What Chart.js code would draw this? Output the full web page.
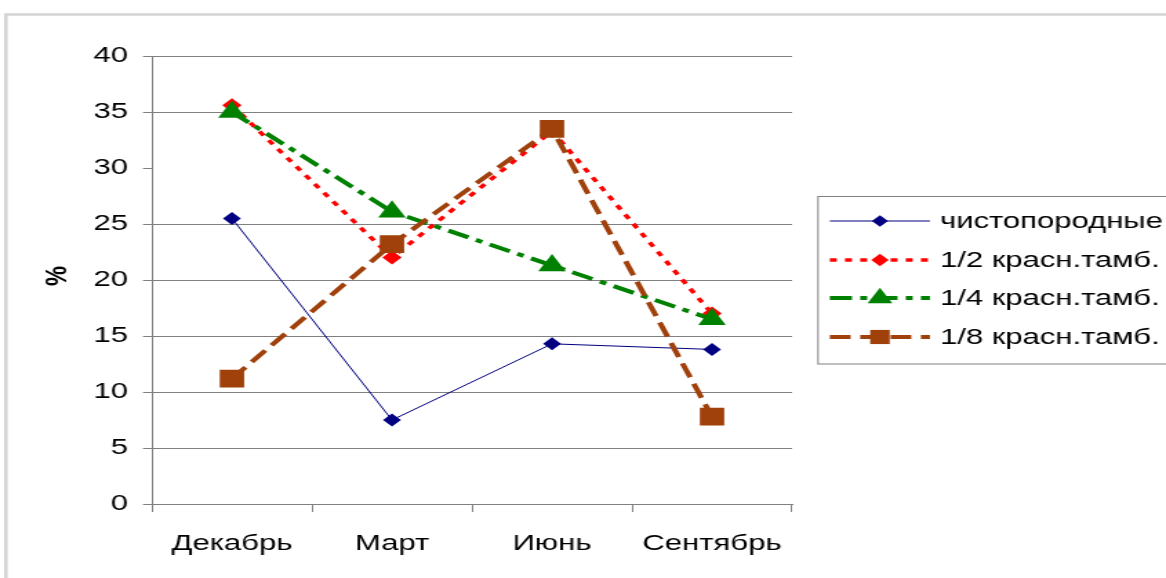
<!DOCTYPE html>
<html>
<head>
<meta charset="utf-8">
<script src="https://cdn.jsdelivr.net/npm/chart.js@4.4.1/dist/chart.umd.min.js"></script>
<style>
  html, body { margin: 0; padding: 0; background: #fff; overflow: hidden; }
  #wrap { width: 845px; height: 578px; transform: scaleX(1.3799); transform-origin: 0 0; }
  #c { width: 845px; height: 578px; display: block; }
</style>
</head>
<body>
<div id="wrap"><canvas id="c" width="845" height="578"></canvas></div>
<script>
// ---- data ----
const categories = ['Декабрь', 'Март', 'Июнь', 'Сентябрь'];
const seriesNames = ['чистопородные', '1/2 красн.тамб.', '1/4 красн.тамб.', '1/8 красн.тамб.'];
const purebred = [25.5, 7.5, 14.3, 13.8];
const half = [35.6, 22.0, 33.3, 17.0];
const quarter = [35.0, 26.1, 21.3, 16.5];
const eighth = [11.2, 23.2, 33.5, 7.8];
const yTicks = [0, 5, 10, 15, 20, 25, 30, 35, 40];
const yTitle = '%';

const FONT = '"Liberation Sans", Arial, sans-serif';
const FS = 22.5;

const datasets = [
  { label: seriesNames[0], data: purebred, borderColor: '#000080', backgroundColor: '#000080',
    borderWidth: 1, pointStyle: 'rectRot', pointRadius: 6.5, pointBorderWidth: 0, order: 3, borderDash: [] },
  { label: seriesNames[1], data: half, borderColor: '#FF0000', backgroundColor: '#FF0000',
    borderWidth: 3.5, borderDash: [5, 6], pointStyle: 'rectRot', pointRadius: 7, pointBorderWidth: 0, order: 2 },
  { label: seriesNames[2], data: quarter, borderColor: '#008000', backgroundColor: '#008000',
    borderWidth: 4, borderDash: [16, 6, 5, 6], pointStyle: 'triangle', pointRadius: 11.5, pointBorderWidth: 0, order: 1 },
  { label: seriesNames[3], data: eighth, borderColor: '#A0400A', backgroundColor: '#A0400A',
    borderWidth: 4, borderDash: [15, 7], pointStyle: 'rect', pointRadius: 12.5, pointBorderWidth: 0, order: 0 }
];
datasets.forEach(d => { d.tension = 0; d.fill = false; d.pointHoverRadius = d.pointRadius; d.borderCapStyle = 'butt'; });

const extras = {
  id: 'extras',
  beforeDraw(chart) {
    const ctx = chart.ctx;
    ctx.save();
    ctx.fillStyle = '#fff';
    ctx.fillRect(0, 0, chart.width, chart.height);
    ctx.strokeStyle = '#d4d4d4';
    ctx.lineWidth = 2.5;
    ctx.strokeRect(4.3, 14.5, 900, 600);
    ctx.restore();
  },
  afterDraw(chart) {
    const ctx = chart.ctx;
    ctx.save();
    ctx.translate(42, 276);
    ctx.rotate(-Math.PI / 2);
    ctx.font = 'bold ' + FS + 'px ' + FONT;
    ctx.fillStyle = '#000';
    ctx.textAlign = 'center';
    ctx.textBaseline = 'middle';
    ctx.fillText(yTitle, 0, 0);
    ctx.restore();

    ctx.save();
    ctx.strokeStyle = '#808080';
    ctx.lineWidth = 1;
    ctx.strokeRect(592.8, 196.5, 400, 167.5);
    const rows = [221, 260, 298, 337];
    chart.data.datasets.forEach((ds, i) => {
      const y = rows[i];
      ctx.save();
      ctx.strokeStyle = ds.borderColor;
      ctx.lineWidth = ds.borderWidth;
      ctx.setLineDash(ds.borderDash || []);
      ctx.lineCap = 'butt';
      ctx.beginPath();
      ctx.moveTo(601.4, y);
      ctx.lineTo(673.9, y);
      ctx.stroke();
      ctx.restore();
      ctx.save();
      ctx.fillStyle = ds.backgroundColor;
      ctx.strokeStyle = ds.backgroundColor;
      Chart.helpers.drawPoint(ctx, { pointStyle: ds.pointStyle, radius: ds.pointRadius * (i === 3 ? 0.8 : 0.9), rotation: 0, borderWidth: 0 }, 637.7, y);
      ctx.restore();
      ctx.font = FS + 'px ' + FONT;
      ctx.fillStyle = '#000';
      ctx.textAlign = 'left';
      ctx.textBaseline = 'middle';
      ctx.fillText(ds.label, 681.2, y + 1);
    });
    ctx.restore();
  }
};

new Chart(document.getElementById('c'), {
  type: 'line',
  data: { labels: categories, datasets },
  options: {
    responsive: false,
    devicePixelRatio: 1,
    animation: false,
    events: [],
    layout: { padding: { left: 0, top: 56, right: 271, bottom: 0 } },
    plugins: { legend: { display: false }, tooltip: { enabled: false }, title: { display: false } },
    scales: {
      x: {
        type: 'category',
        offset: true,
        afterFit(s) { s.height = 74; },
        grid: { display: true, drawOnChartArea: false, offset: true, tickLength: 8, color: '#808080', lineWidth: 1 },
        border: { display: true, color: '#808080', width: 1 },
        ticks: { color: '#000', font: { family: FONT, size: FS }, padding: 18, maxRotation: 0, autoSkip: false }
      },
      y: {
        min: 0, max: 40,
        afterFit(s) { s.width = 110.1; },
        afterBuildTicks(s) { s.ticks = yTicks.map(v => ({ value: v })); },
        grid: {
          color: c => (c.tick && c.tick.value === 30) ? 'rgba(0,0,0,0)' : '#808080',
          tickColor: '#808080', lineWidth: 1, tickLength: 6.5
        },
        border: { display: true, color: '#808080', width: 1 },
        ticks: { color: '#000', font: { family: FONT, size: FS }, padding: 10.8, stepSize: 5 }
      }
    }
  },
  plugins: [extras]
});
</script>
</body>
</html>
